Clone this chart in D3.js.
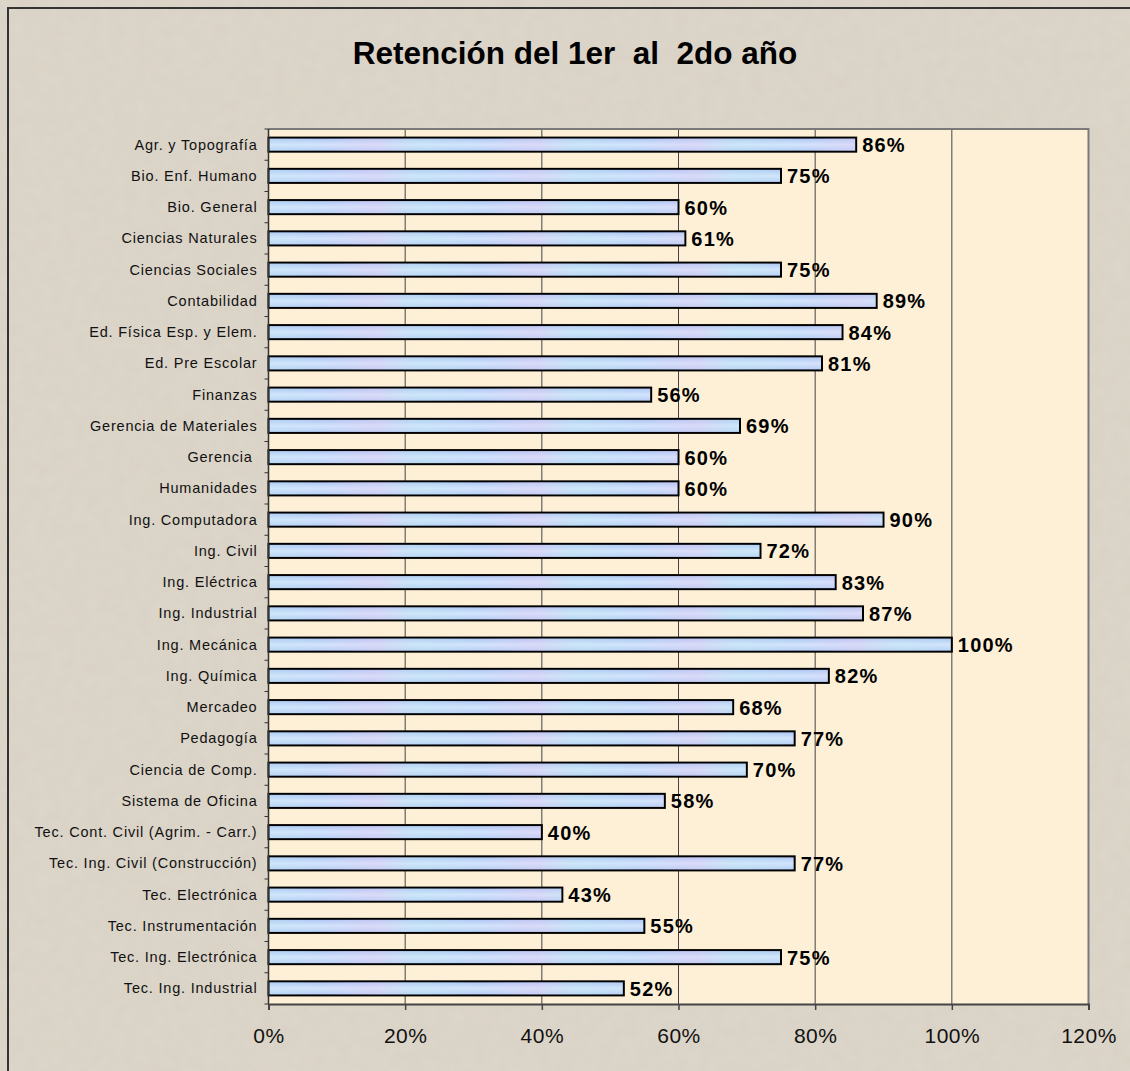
<!DOCTYPE html>
<html>
<head>
<meta charset="utf-8">
<script src="https://cdn.jsdelivr.net/npm/d3@7"></script>
<style>
  body { margin: 0; background: #ddd6ca; }
  svg { display: block; }
  text { white-space: pre; }
</style>
</head>
<body>
<div id="chart"></div>
<script>
// carreras y porcentaje de retención (1er -> 2do año)
const programas = [
  "Agr. y Topografía", "Bio. Enf. Humano", "Bio. General", "Ciencias Naturales",
  "Ciencias Sociales", "Contabilidad", "Ed. Física Esp. y Elem.", "Ed. Pre Escolar",
  "Finanzas", "Gerencia de Materiales", "Gerencia ", "Humanidades",
  "Ing. Computadora", "Ing. Civil", "Ing. Eléctrica", "Ing. Industrial",
  "Ing. Mecánica", "Ing. Química", "Mercadeo", "Pedagogía",
  "Ciencia de Comp.", "Sistema de Oficina", "Tec. Cont. Civil (Agrim. - Carr.)",
  "Tec. Ing. Civil (Construcción)", "Tec. Electrónica", "Tec. Instrumentación",
  "Tec. Ing. Electrónica", "Tec. Ing. Industrial"
];
const retencion = [
  0.86, 0.75, 0.60, 0.61, 0.75, 0.89, 0.84, 0.81, 0.56, 0.69, 0.60, 0.60,
  0.90, 0.72, 0.83, 0.87, 1.00, 0.82, 0.68, 0.77, 0.70, 0.58, 0.40, 0.77,
  0.43, 0.55, 0.75, 0.52
];
const xTicks = [0, 0.2, 0.4, 0.6, 0.8, 1.0, 1.2];
const titulo = "Retención del 1er  al  2do año";

const width = 1130, height = 1071;
const margin = {top: 129, right: 41.5, bottom: 67, left: 268.5};
const fuente = "Liberation Sans, Arial, sans-serif";

const svg = d3.select("#chart").append("svg")
    .attr("width", width)
    .attr("height", height);

const defs = svg.append("defs");

// textura suave para el fondo
const noise = defs.append("filter").attr("id", "grain")
    .attr("x", 0).attr("y", 0).attr("width", "100%").attr("height", "100%");
noise.append("feTurbulence")
    .attr("type", "fractalNoise").attr("baseFrequency", 0.08).attr("numOctaves", 2).attr("seed", 4);
noise.append("feColorMatrix")
    .attr("values", "0 0 0 0 0.55  0 0 0 0 0.5  0 0 0 0 0.42  0 0 0 0.18 0");
noise.append("feComposite").attr("in2", "SourceGraphic").attr("operator", "in");

const barGrad = defs.append("linearGradient").attr("id", "barGrad")
    .attr("x1", 0).attr("y1", 0).attr("x2", 0).attr("y2", 1);
barGrad.append("stop").attr("offset", "0%").attr("stop-color", "#a9c3f3");
barGrad.append("stop").attr("offset", "50%").attr("stop-color", "#d3e4fc");
barGrad.append("stop").attr("offset", "100%").attr("stop-color", "#b3ccf5");

const barTint = defs.append("linearGradient").attr("id", "barTint")
    .attr("x1", 0).attr("y1", 0).attr("x2", 160).attr("y2", 0)
    .attr("spreadMethod", "repeat").attr("gradientUnits", "userSpaceOnUse");
barTint.append("stop").attr("offset", "0%").attr("stop-color", "#e8c8f0").attr("stop-opacity", 0);
barTint.append("stop").attr("offset", "35%").attr("stop-color", "#e8c8f0").attr("stop-opacity", 0.35);
barTint.append("stop").attr("offset", "60%").attr("stop-color", "#bfeef0").attr("stop-opacity", 0.3);
barTint.append("stop").attr("offset", "100%").attr("stop-color", "#bfeef0").attr("stop-opacity", 0);

// fondo exterior
svg.append("rect")
    .attr("width", width).attr("height", height)
    .attr("fill", "#ddd6ca");
svg.append("rect")
    .attr("width", width).attr("height", height)
    .attr("fill", "#ddd6ca")
    .attr("filter", "url(#grain)");
svg.append("rect")
    .attr("x", 8).attr("y", 8)
    .attr("width", width + 20).attr("height", height + 20)
    .attr("fill", "none")
    .attr("stroke", "#333")
    .attr("stroke-width", 2);

svg.append("text")
    .attr("x", 575).attr("y", 64)
    .attr("text-anchor", "middle")
    .attr("font-family", fuente)
    .attr("font-weight", "bold")
    .attr("font-size", 31.5)
    .attr("fill", "#000")
    .text(titulo);

const x = d3.scaleLinear()
    .domain([0, 1.2])
    .range([margin.left, width - margin.right]);

const y = d3.scaleBand()
    .domain(programas)
    .range([margin.top, height - margin.bottom])
    .paddingInner(0.55)
    .paddingOuter(0.275);

// area de trazado
svg.append("rect")
    .attr("x", x(0)).attr("y", margin.top)
    .attr("width", x(1.2) - x(0))
    .attr("height", height - margin.bottom - margin.top)
    .attr("fill", "#fdf0d7");

// lineas de division
svg.append("g")
  .selectAll("line")
  .data(xTicks.slice(1, -1))
  .join("line")
    .attr("x1", d => x(d)).attr("x2", d => x(d))
    .attr("y1", margin.top).attr("y2", height - margin.bottom)
    .attr("stroke", "#444")
    .attr("stroke-width", 1);

// marco superior y derecho
svg.append("path")
    .attr("d", `M${x(0)},${margin.top}H${x(1.2)}V${height - margin.bottom}`)
    .attr("fill", "none")
    .attr("stroke", "#7a7a7a")
    .attr("stroke-width", 2);

// barras
svg.append("g")
  .selectAll("rect")
  .data(retencion)
  .join("rect")
    .attr("x", x(0))
    .attr("y", (d, i) => y(programas[i]))
    .attr("width", d => x(d) - x(0))
    .attr("height", y.bandwidth())
    .attr("fill", "url(#barGrad)")
    .attr("stroke", "#000")
    .attr("stroke-width", 2);

svg.append("g")
  .selectAll("rect")
  .data(retencion)
  .join("rect")
    .attr("x", x(0) + 1)
    .attr("y", (d, i) => y(programas[i]) + 1)
    .attr("width", d => x(d) - x(0) - 2)
    .attr("height", y.bandwidth() - 2)
    .attr("fill", "url(#barTint)");

// etiquetas de valor
svg.append("g")
  .selectAll("text")
  .data(retencion)
  .join("text")
    .attr("x", d => x(d) + 6)
    .attr("y", (d, i) => y(programas[i]) + y.bandwidth() / 2 + 7.5)
    .attr("font-family", fuente)
    .attr("font-weight", "bold")
    .attr("font-size", 20)
    .attr("letter-spacing", 1.2)
    .attr("fill", "#000")
    .text(d => d3.format(".0%")(d));

// eje vertical
const step = y.step();
svg.append("line")
    .attr("x1", x(0)).attr("x2", x(0))
    .attr("y1", margin.top).attr("y2", height - margin.bottom)
    .attr("stroke", "#333").attr("stroke-width", 1.5);
svg.append("g")
  .selectAll("line")
  .data(d3.range(programas.length + 1))
  .join("line")
    .attr("x1", x(0) - 4).attr("x2", x(0))
    .attr("y1", i => margin.top + i * step)
    .attr("y2", i => margin.top + i * step)
    .attr("stroke", "#333").attr("stroke-width", 1);

svg.append("g")
  .selectAll("text")
  .data(programas)
  .join("text")
    .attr("x", x(0) - 11)
    .attr("y", d => y(d) + y.bandwidth() / 2 + 5)
    .attr("text-anchor", "end")
    .attr("font-family", fuente)
    .attr("font-size", 14.5)
    .attr("letter-spacing", 0.8)
    .attr("fill", "#111")
    .text(d => d);

// eje horizontal
const xAxis = svg.append("g")
    .attr("transform", `translate(0,${height - margin.bottom})`)
    .call(d3.axisBottom(x).tickValues(xTicks).tickFormat(d3.format(".0%")).tickSize(6).tickPadding(18));
xAxis.select(".domain").attr("stroke", "#444").attr("stroke-width", 2);
xAxis.selectAll(".tick line").attr("stroke", "#444").attr("stroke-width", 1.5);
xAxis.selectAll(".tick text")
    .attr("font-family", fuente)
    .attr("font-size", 21)
    .attr("letter-spacing", 0.5)
    .attr("fill", "#111");
</script>
</body>
</html>
